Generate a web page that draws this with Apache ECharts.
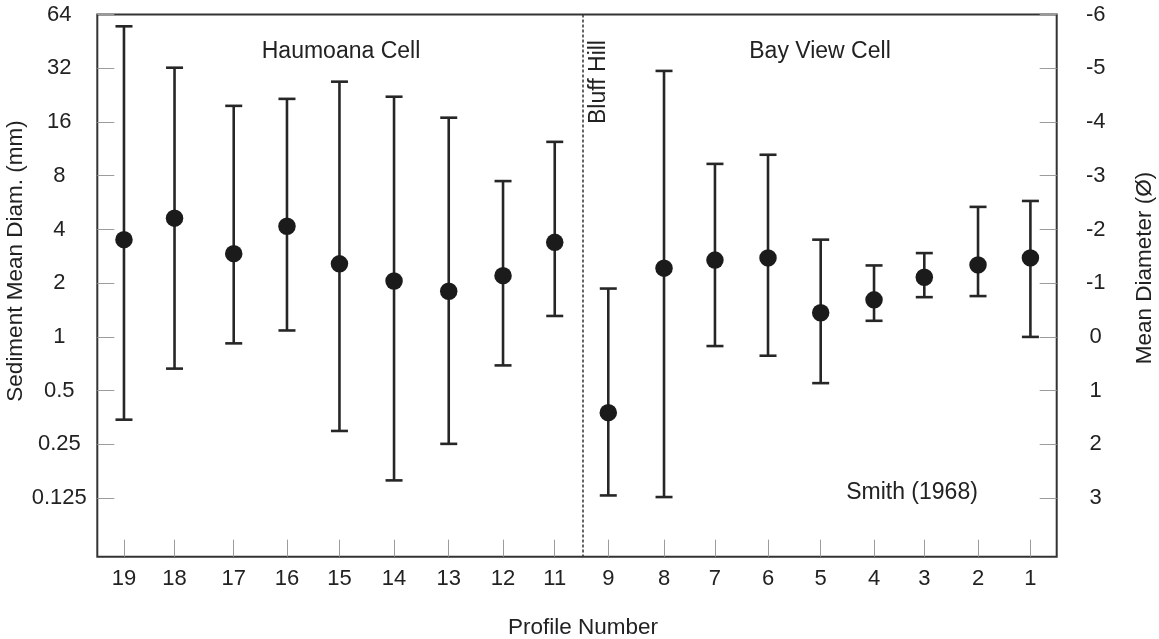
<!DOCTYPE html>
<html>
<head>
<meta charset="utf-8">
<title>Sediment mean diameter by profile</title>
<script src="https://cdn.jsdelivr.net/npm/echarts@6/dist/echarts.min.js"></script>
<style>
html, body { margin: 0; padding: 0; background: #fff; }
#chart { width: 1159px; height: 639px; }
</style>
</head>
<body>
<div id="chart"></div>
<script>
// profile numbers, left to right along the coast
const profiles = ['19', '18', '17', '16', '15', '14', '13', '12', '11', '9', '8', '7', '6', '5', '4', '3', '2', '1'];
// alongshore position of each profile (0-100 across the plot)
const positions = [2.78, 8.05, 14.22, 19.77, 25.24, 30.93, 36.63, 42.29, 47.68, 53.26, 59.07, 64.38, 69.91, 75.40, 80.96, 86.20, 91.80, 97.26];
const bluffHillPos = 50.59; // cell boundary

// phi values (phi = -log2 mm)
const meanPhi  = [-1.81, -2.21, -1.55, -2.06, -1.36, -1.04, -0.85, -1.14, -1.76, 1.41, -1.28, -1.43, -1.47, -0.45, -0.69, -1.11, -1.34, -1.47];
const coarsePhi = [-5.78, -5.01, -4.30, -4.43, -4.75, -4.47, -4.08, -2.90, -3.63, -0.90, -4.95, -3.22, -3.39, -1.81, -1.33, -1.56, -2.42, -2.53];
const finePhi   = [1.54, 0.59, 0.12, -0.12, 1.75, 2.67, 1.99, 0.53, -0.39, 2.95, 2.98, 0.17, 0.35, 0.86, -0.30, -0.74, -0.76, 0.00];

// tick labels
const phiTicks = [-6, -5, -4, -3, -2, -1, 0, 1, 2, 3];
const mmLabels = ['64', '32', '16', '8', '4', '2', '1', '0.5', '0.25', '0.125'];
const phiLabels = ['-6', '-5', '-4', '-3', '-2', '-1', '0', '1', '2', '3'];

const FONT = '"Liberation Sans", Arial, Helvetica, sans-serif';
const TEXT = '#222';
const TICK = '#9c9c9c';

const chart = echarts.init(document.getElementById('chart'));

function nearestProfile(v) {
    let best = 0;
    for (let i = 1; i < positions.length; i++) {
        if (Math.abs(positions[i] - v) < Math.abs(positions[best] - v)) best = i;
    }
    return profiles[best];
}

function phiAxis(pos, labels, margin) {
    return {
        type: 'value',
        position: pos,
        inverse: true,
        min: -6,
        max: 4.09,
        axisLine: { show: false, onZero: false },
        splitLine: { show: false },
        axisTick: { show: true, inside: true, length: 17, customValues: phiTicks, lineStyle: { color: TICK, width: 1 } },
        axisLabel: {
            show: true, customValues: phiTicks, margin: margin, align: 'center',
            color: TEXT, fontSize: 22, fontFamily: FONT,
            formatter: v => labels[phiTicks.indexOf(Math.round(v))] || ''
        }
    };
}

// error bar: vertical line with caps
function renderBar(params, api) {
    const x = api.value(0);
    const top = api.coord([x, api.value(1)]);
    const bot = api.coord([x, api.value(2)]);
    const half = 8.5;
    const st = { stroke: '#262626', lineWidth: 2.6 };
    return {
        type: 'group',
        children: [
            { type: 'line', shape: { x1: top[0], y1: top[1], x2: bot[0], y2: bot[1] }, style: st },
            { type: 'line', shape: { x1: top[0] - half, y1: top[1], x2: top[0] + half, y2: top[1] }, style: st },
            { type: 'line', shape: { x1: bot[0] - half, y1: bot[1], x2: bot[0] + half, y2: bot[1] }, style: st }
        ]
    };
}

const barData = positions.map((p, i) => [p, coarsePhi[i], finePhi[i]]);
const meanData = positions.map((p, i) => [p, meanPhi[i]]);

function label(text, x, y, size, rot) {
    return {
        type: 'text', x: x, y: y, rotation: rot || 0, z: 10,
        style: { text: text, font: size + 'px ' + FONT, fill: TEXT, align: 'center', verticalAlign: 'middle' }
    };
}

const option = {
    backgroundColor: '#fff',
    animation: false,
    grid: {
        left: 97.3, right: 102.3, top: 14.5, bottom: 82.3,
        show: true, borderColor: '#333', borderWidth: 2, backgroundColor: 'transparent'
    },
    xAxis: {
        type: 'value',
        min: 0,
        max: 100,
        axisLine: { show: false, onZero: false },
        splitLine: { show: false },
        axisTick: { show: true, inside: true, length: 17, customValues: positions, lineStyle: { color: TICK, width: 1 } },
        axisLabel: {
            show: true, customValues: positions, margin: 11,
            color: TEXT, fontSize: 22, fontFamily: FONT,
            formatter: v => nearestProfile(v)
        }
    },
    yAxis: [phiAxis('left', mmLabels, 38), phiAxis('right', phiLabels, 39)],
    series: [
        {
            type: 'custom',
            name: 'range',
            renderItem: renderBar,
            data: barData,
            encode: { x: 0, y: [1, 2] },
            z: 2,
            markLine: {
                silent: true,
                symbol: 'none',
                label: { show: false },
                lineStyle: { color: '#333', width: 1.5, type: [3, 2] },
                data: [{ xAxis: bluffHillPos }]
            }
        },
        {
            type: 'scatter',
            name: 'mean',
            data: meanData,
            symbol: 'circle',
            symbolSize: 17.5,
            itemStyle: { color: '#1b1b1b', opacity: 1 },
            z: 3
        }
    ],
    graphic: [
        label('Sediment Mean Diam. (mm)', 16, 261, 22.5, Math.PI / 2),
        label('Mean Diameter (Ø)', 1145, 268, 22.5, Math.PI / 2),
        label('Profile Number', 583, 628, 22.5),
        label('Haumoana Cell', 341, 52, 23),
        label('Bay View Cell', 820, 52, 23),
        label('Bluff Hill', 599, 82, 23, Math.PI / 2),
        label('Smith (1968)', 912, 493, 23)
    ]
};

chart.setOption(option);
</script>
</body>
</html>
